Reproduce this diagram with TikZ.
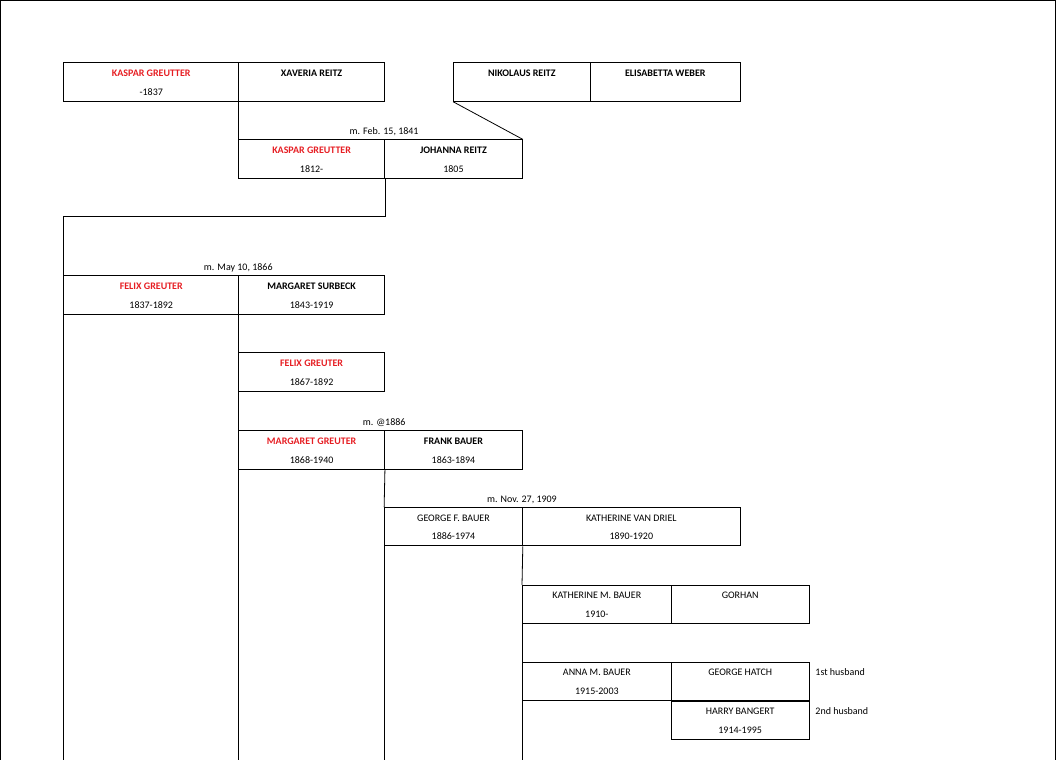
\documentclass[tikz,border=0pt]{standalone}
\usepackage{fontspec}
\setmainfont{Carlito}
\usetikzlibrary{calc,positioning}
\definecolor{rouge}{RGB}{230,30,35}
\tikzset{cell/.style={draw,rectangle,minimum height=38.5pt,anchor=north west,inner sep=0pt},
  nom/.style={anchor=base,font=\fontsize{10}{12}\selectfont\bfseries},
  dat/.style={anchor=base,font=\fontsize{10}{12}\selectfont},
  red/.style={text=rouge}}
% #1 id, #2 x left, #3 x right, #4 y top, #5 name, #6 date, #7 name style
\newcommand\person[7]{%
  \node[cell,minimum width={(#3-#2)*1pt}] (#1) at (#2,#4) {};
  \node[nom,#7] (#1n) at ($(#1.north)+(0,14)$) {#5};
  \node[dat] (#1d) at ($(#1.north)+(0,33)$) {#6};}
\begin{document}
\begin{tikzpicture}[x=1pt,y=-1pt,line width=0.8pt]
    \draw[line width=1pt] (0,760) -- (0,0) -- (1056,0) -- (1056,760);
    \useasboundingbox (0,0) rectangle (1056,760);
    % first generation
    \person{kg}{63}{238}{62}{KASPAR GREUTTER}{-1837}{red}
    \person{xr}{238}{384}{62}{XAVERIA REITZ}{}{}
    \person{nr}{453}{590}{62}{NIKOLAUS REITZ}{}{}
    \person{ew}{590}{740}{62}{ELISABETTA WEBER}{}{}
    % second
    \person{kgb}{238}{384}{139}{KASPAR GREUTTER}{1812-}{red}
    \person{jr}{384}{522}{139}{JOHANNA REITZ}{1805}{}
    \node[dat] at (384,134) {m. Feb. 15, 1841};
    \draw (xr.south west) -- (kgb.north west);
    \draw (nr.south west) -- (jr.north east);
    % third
    \person{fg}{63}{238}{275}{FELIX GREUTER}{1837-1892}{red}
    \person{ms}{238}{384}{275}{MARGARET SURBECK}{1843-1919}{}
    \node[dat] at (238,270) {m. May 10, 1866};
    \coordinate (c1) at (63,216);
    \draw (kgb.south east) -- (kgb.south east |- c1) -- (c1) -- (fg.north west);
    \draw (fg.south west) -- (63,760);
    % children
    \person{fgj}{238}{384}{352}{FELIX GREUTER}{1867-1892}{red}
    \person{mg}{238}{384}{430}{MARGARET GREUTER}{1868-1940}{red}
    \person{fb}{384}{522}{430}{FRANK BAUER}{1863-1894}{}
    \node[dat] at (384,425) {m. @1886};
    \draw (ms.south west) -- (fgj.north west);
    \draw (fgj.south west) -- (mg.north west);
    \draw (mg.south west) -- (238,760);
    \person{gb}{384}{522}{507}{GEORGE F. BAUER}{1886-1974}{font=\fontsize{10}{12}\selectfont}
    \person{kv}{522}{740}{507}{KATHERINE VAN DRIEL}{1890-1920}{font=\fontsize{10}{12}\selectfont}
    \node[dat] at (522,502) {m. Nov. 27, 1909};
    \draw (mg.south east) -- (gb.north west);
    \draw (gb.south west) -- (384,760);
    \person{kb}{522}{671}{585}{KATHERINE M. BAUER}{1910-}{font=\fontsize{10}{12}\selectfont}
    \person{go}{671}{809}{585}{GORHAN}{}{font=\fontsize{10}{12}\selectfont}
    \person{ab}{522}{671}{662}{ANNA M. BAUER}{1915-2003}{font=\fontsize{10}{12}\selectfont}
    \person{gh}{671}{809}{662}{GEORGE HATCH}{}{font=\fontsize{10}{12}\selectfont}
    \person{hb}{671}{809}{701}{HARRY BANGERT}{1914-1995}{font=\fontsize{10}{12}\selectfont}
    \draw (gb.south east) -- (kb.north west);
    \draw (kb.south west) -- (ab.north west);
    \draw (ab.south west) -- (522,760);
    \node[dat,anchor=base west] at (812,676) {1st husband};
    \node[dat,anchor=base west] at (812,715) {2nd husband};
\end{tikzpicture}
\end{document}
